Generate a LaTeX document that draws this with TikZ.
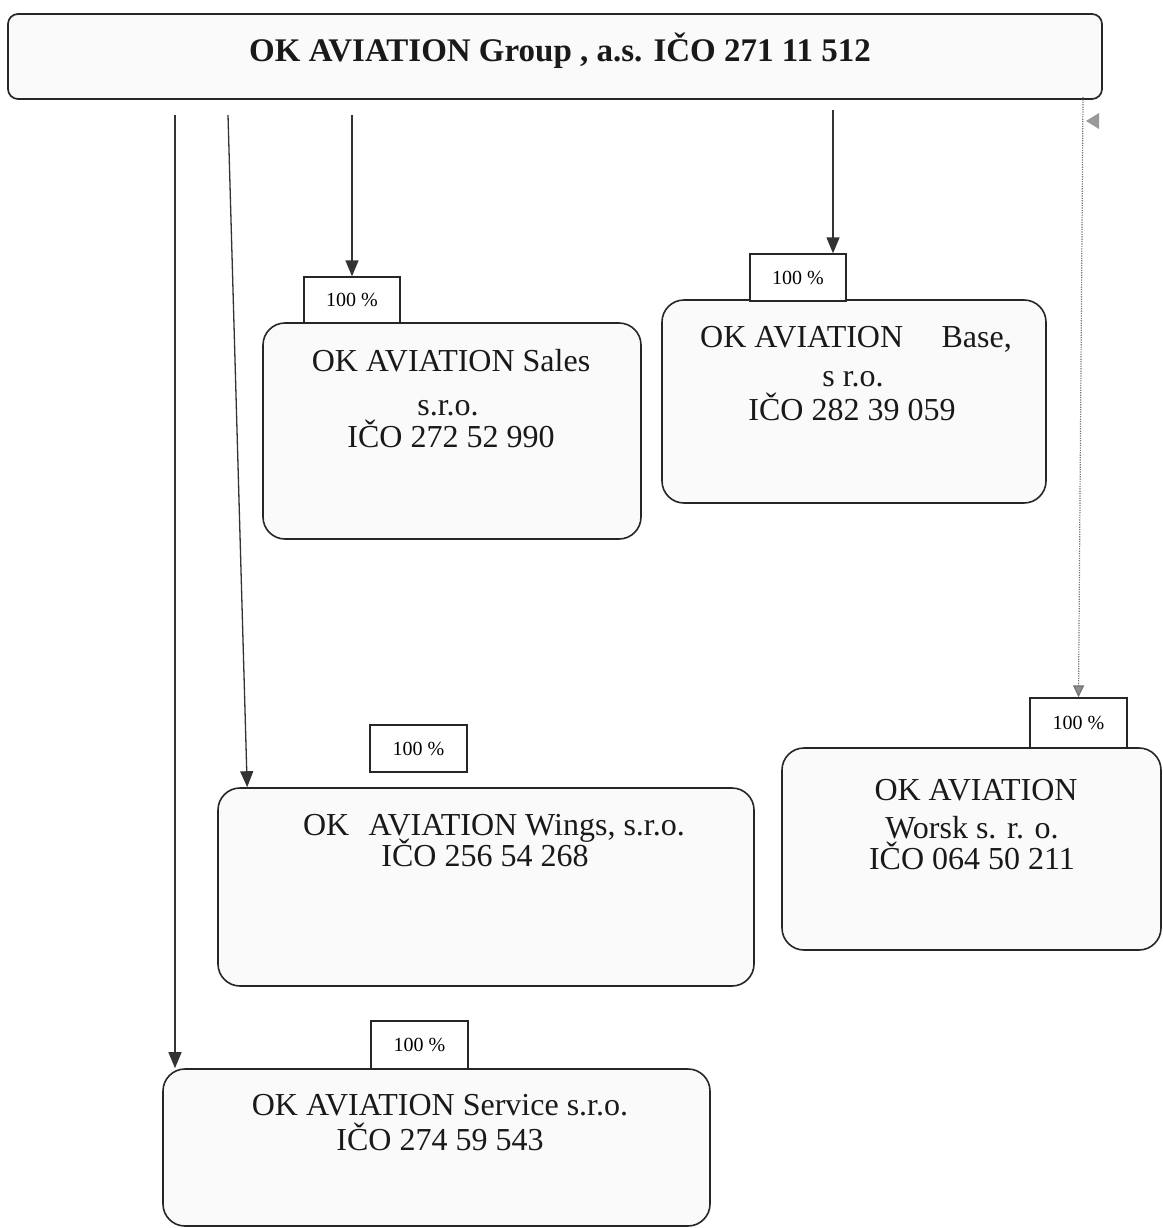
\documentclass[tikz,border=0pt]{standalone}
\usepackage{fontspec}
\setmainfont{Liberation Serif}
\usetikzlibrary{arrows.meta,calc}
\begin{document}
\begin{tikzpicture}[x=1pt,y=-1pt]
\tikzset{
  cobox/.style={draw=black!85, line width=1.6pt, rounded corners=22pt, fill=black!2, inner sep=0pt},
  topbox/.style={draw=black!85, line width=1.7pt, rounded corners=10pt, fill=black!2, inner sep=0pt},
  pctbox/.style={draw=black!85, line width=1.3pt, fill=white, inner sep=0pt, font=\fontsize{20}{24}\selectfont},
  txt/.style={anchor=base, inner sep=0pt, font=\fontsize{32}{36}\selectfont, text=black!90},
  arr/.style={draw=black!80, line width=1.3pt, -{Triangle[length=16pt,width=13pt]}},
  garr/.style={draw=black!55, line width=1.2pt, dash pattern=on 1.2pt off 1.2pt, -{Triangle[length=12pt,width=11pt,fill=black!45]}},
}
\useasboundingbox (0,0) rectangle (1162,1228);

% top box
\node[topbox, minimum width=1094pt, minimum height=85pt] (top) at (555,56.5) {};
\node[anchor=base, inner sep=0pt, font=\bfseries\fontsize{33}{40}\selectfont, text=black!90] (title) at (560,62) {OK AVIATION Group , a.s. IČO 271 11 512};

% company boxes
\node[cobox, minimum width=378pt, minimum height=216pt] (sales) at (452,431) {};
\node[cobox, minimum width=384pt, minimum height=203pt] (base) at (854,401.5) {};
\node[cobox, minimum width=379pt, minimum height=202pt] (worsk) at (971.5,849) {};
\node[cobox, minimum width=536pt, minimum height=198pt] (wings) at (486,887) {};
\node[cobox, minimum width=547pt, minimum height=157pt] (service) at (436.5,1147.5) {};

% percentage boxes
\node[pctbox, minimum width=96pt, minimum height=46pt] (salespct) at (352,300) {100 \%};
\node[pctbox, minimum width=96pt, minimum height=47pt] (basepct) at (798,277.5) {100 \%};
\node[pctbox, minimum width=97pt, minimum height=50pt] (worskpct) at (1078.5,723) {100 \%};
\node[pctbox, minimum width=97pt, minimum height=47pt] (wingspct) at (418.5,748.5) {100 \%};
\node[pctbox, minimum width=97pt, minimum height=48pt] (servicepct) at (419.5,1045) {100 \%};

% texts
\node[txt] (sales1) at (451,371) {OK AVIATION Sales};
\node[txt] (sales2) at (448,415) {s.r.o.};
\node[txt] (sales3) at (451,447) {IČO 272 52 990};

\node[txt] (base1) at (856,347) {OK AVIATION\hspace{1.2em}Base,};
\node[txt] (base2) at (853,386) {s r.o.};
\node[txt] (base3) at (852,420) {IČO 282 39 059};

\node[txt] (worsk1) at (976,800) {OK AVIATION};
\node[txt] (worsk2) at (972,838) {Worsk s. r. o.};
\node[txt] (worsk3) at (972,869) {IČO 064 50 211};

\node[txt] (wings1) at (494,835) {OK\hspace{0.6em}AVIATION Wings, s.r.o.};
\node[txt] (wings2) at (485,866) {IČO 256 54 268};

\node[txt] (service1) at (440,1115) {OK AVIATION Service s.r.o.};
\node[txt] (service2) at (440,1150) {IČO 274 59 543};

% connector start points
\coordinate (c1) at (175,115);
\coordinate (c2) at (228,115);
\coordinate (c3) at (352,115);
\coordinate (c4) at (833,110);
\coordinate (c5) at (1083,97);
\coordinate (wingsend) at ([xshift=30pt]wings.north west);

% connectors
\draw[arr] (c1) -- (c1 |- service.north);
\draw[arr] (c2) -- (wingsend);
\draw[arr] (c3) -- (salespct.north);
\draw[arr] (c4) -- (c4 |- basepct.north);
\draw[garr] (c5) -- (worskpct.north);

% small grey arrowhead beside the dotted line
\fill[black!40] (1086,121) -- (1099,113) -- (1099,129) -- cycle;
\end{tikzpicture}
\end{document}
